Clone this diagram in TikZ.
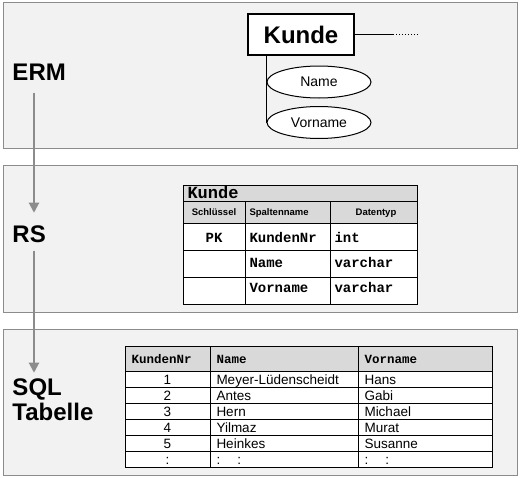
\documentclass[tikz,border=0pt]{standalone}
\usepackage{fontspec}
\setmainfont{Liberation Sans}
\setmonofont{Liberation Mono}
\usepackage{tikz}
\usetikzlibrary{calc}
\usetikzlibrary{shapes.geometric}
\usetikzlibrary{positioning}
\usetikzlibrary{arrows.meta}

\definecolor{panelfill}{HTML}{F2F2F2}
\definecolor{panelline}{HTML}{8C8C8C}
\definecolor{headfill}{HTML}{D9D9D9}
\definecolor{flowgray}{HTML}{8C8C8C}

\begin{document}
\begin{tikzpicture}[x=1pt,y=-1pt,line width=1pt,
	panel/.style={draw=panelline,fill=panelfill},
	level node/.style={anchor=base west,inner sep=0pt,font=\fontsize{24}{25}\selectfont\bfseries},
	flow/.style={draw=flowgray,line width=2pt,-{Triangle[width=10pt,length=10pt]}},
	entity node/.style={rectangle,draw,fill=white,line width=2pt,minimum width=106pt,minimum height=41pt,inner sep=0pt,font=\fontsize{24}{28}\selectfont\bfseries},
	attr node/.style={ellipse,draw,fill=white,minimum width=104pt,minimum height=32pt,inner sep=0pt,font=\fontsize{14}{16}\selectfont},
	rs title/.style={inner sep=0pt,anchor=base west,font=\fontsize{17}{19}\selectfont\ttfamily\bfseries},
	rs head/.style={inner sep=0pt,anchor=base,font=\fontsize{9.5}{11}\selectfont\bfseries},
	rs cell/.style={inner sep=0pt,anchor=base west,font=\fontsize{14}{16}\selectfont\ttfamily\bfseries},
	sql head/.style={inner sep=0pt,anchor=base west,font=\fontsize{12.5}{14}\selectfont\ttfamily\bfseries},
	sql cell/.style={inner sep=0pt,anchor=base west,font=\fontsize{13.5}{15}\selectfont}]
	
	\useasboundingbox (0,0) rectangle (522,477);
	\fill[white] (0,0) rectangle (522,477);
	
	\draw[panel] (3,2) rectangle (517,148);
	\draw[panel] (3,165) rectangle (517,312);
	\draw[panel] (3,329) rectangle (517,475);
	
	\node[level node] (erm) at (12,80) {ERM};
	\node[level node] (rs) at (12,242) {RS};
	\node[level node] (sql) at (12,395) {SQL};
	\node[level node] (tab) at (12,420) {Tabelle};
	
	\draw[flow] ([shift={(22pt,-12pt)}]erm.south west) -- ([shift={(22pt,12pt)}]rs.north west);
	\draw[flow] ([shift={(22pt,-8pt)}]rs.south west) -- ([shift={(22pt,5pt)}]sql.north west);
	
	% ERM
	\node[entity node] (kunde) at (301,34.5) {Kunde};
	\node[attr node] (name) at (319,82) {Name};
	\node[attr node] (vorname) at (319,122.5) {Vorname};
	\draw (kunde.south -| vorname.west) -- (vorname.west);
	\coordinate[right=38pt of kunde.east] (rel);
	\coordinate[right=26pt of rel] (relend);
	\draw[line width=1.5pt] (kunde.east) -- (rel);
	\draw[line width=1.5pt,dash pattern=on 1pt off 2pt] (rel) -- (relend);
	
	% RS
	\fill[headfill] (183,185) rectangle (417,223);
	\fill[white] (183,223) rectangle (417,304);
	\draw (183,185) rectangle (417,304);
	\foreach \y in {201,223,250,277}
	\draw (183,\y) -- (417,\y);
	\foreach \x in {245,330}
	\draw (\x,201) -- (\x,304);
	
	\node[rs title] (rskunde) at (187,198) {Kunde};
	\node[rs head] (schl) at (214,215) {Schlüssel};
	\node[rs head,anchor=base west] (spalte) at (249,215) {Spaltenname};
	\node[rs head] (typ) at (376,215) {Datentyp};
	\node[rs cell,anchor=base] (pk) at (214,242) {PK};
	\node[rs cell] (c1) at (249,242) {KundenNr};
	\node[rs cell] (t1) at (334,242) {int};
	\node[rs cell] (c2) at (249,267) {Name};
	\node[rs cell] (t2) at (334,267) {varchar};
	\node[rs cell] (c3) at (249,292) {Vorname};
	\node[rs cell] (t3) at (334,292) {varchar};
	
	% SQL Tabelle
	\fill[headfill] (125,346) rectangle (492,371);
	\fill[white] (125,371) rectangle (492,467);
	\draw (125,346) rectangle (492,467);
	\foreach \y in {371,387,...,451}
	\draw (125,\y) -- (492,\y);
	\foreach \x in {210,358}
	\draw (\x,346) -- (\x,467);
	
	\node[sql head] (hnr) at (131,363) {KundenNr};
	\node[sql head] (hname) at (216,363) {Name};
	\node[sql head] (hvor) at (364,363) {Vorname};
	\foreach \nr/\nm/\vn [count=\i] in {1/Meyer-Lüdenscheidt/Hans,2/Antes/Gabi,3/Hern/Michael,4/Yilmaz/Murat,5/Heinkes/Susanne}{
		\node[sql cell,anchor=base] (nr\i) at (167.5,368+16*\i) {\nr};
		\node[sql cell] (nm\i) at (216,368+16*\i) {\nm};
		\node[sql cell] (vn\i) at (364,368+16*\i) {\vn};
	}
	\node[sql cell,anchor=base] (nr6) at (167.5,464) {:};
	\node[sql cell] (nm6) at (216,464) {:\hspace{17pt}:};
	\node[sql cell] (vn6) at (364,464) {:\hspace{17pt}:};
	
\end{tikzpicture}
\end{document}
